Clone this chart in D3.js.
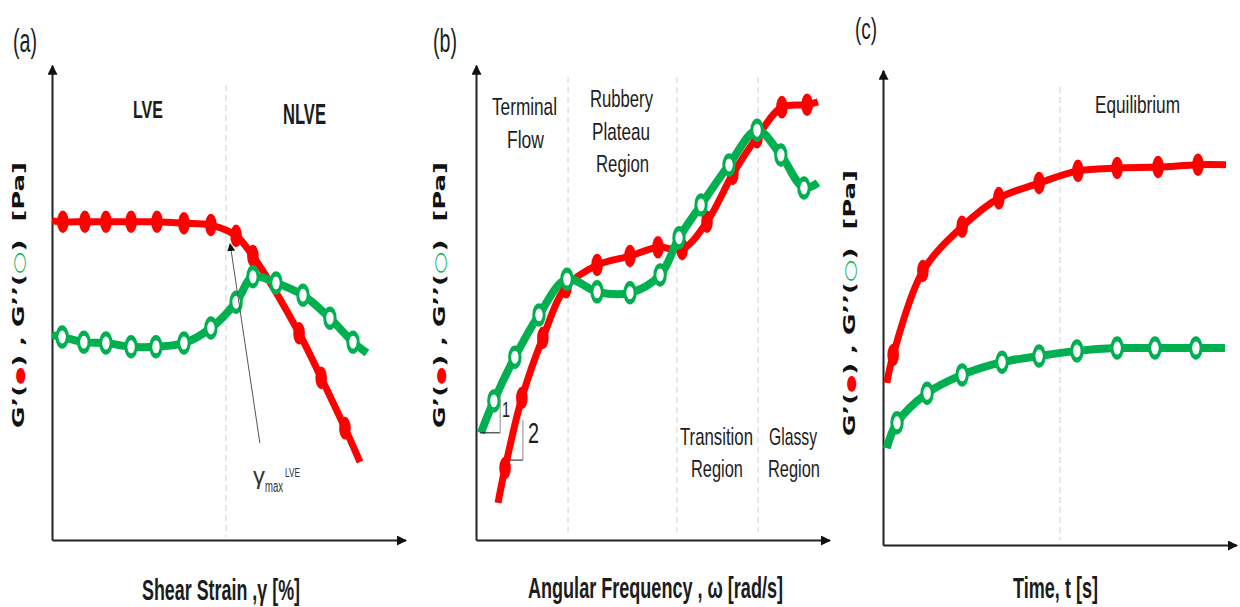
<!DOCTYPE html>
<html><head><meta charset="utf-8">
<script src="https://cdn.jsdelivr.net/npm/d3@7"></script>
<style>
html,body{margin:0;padding:0;background:#fff;}
svg{display:block;}
text{white-space:pre;}
</style></head>
<body>
<script>
// ---------------- DATA (arbitrary schematic units, 0..10) ----------------
// (a) amplitude sweep
const strainRedX   = [0, 0.31, 0.94, 1.54, 2.26, 3.0, 3.77, 4.54, 5.26, 5.74, 7.06, 7.69, 8.37, 8.8];
const strainGp     = [6.79, 6.77, 6.77, 6.77, 6.77, 6.77, 6.74, 6.70, 6.47, 6.04, 4.40, 3.45, 2.38, 1.66];
const strainGreenX = [0, 0.29, 0.91, 1.54, 2.26, 2.97, 3.77, 4.54, 5.26, 5.74, 6.4, 7.17, 7.94, 8.6, 9.0];
const strainGpp    = [4.36, 4.32, 4.21, 4.19, 4.11, 4.11, 4.19, 4.51, 5.06, 5.60, 5.47, 5.21, 4.72, 4.21, 3.98];
const strainRegions = [4.97];
const strainRegionLabels = ["LVE", "NLVE"];

// (b) frequency sweep
const freqRedX   = [0.63, 0.83, 1.31, 1.91, 2.57, 3.46, 4.4, 5.2, 5.89, 6.6, 7.34, 8.03, 8.74, 9.46, 9.77];
const freqGp     = [0.79, 1.53, 3.02, 4.30, 5.38, 5.85, 6.04, 6.23, 6.19, 6.77, 7.79, 8.57, 9.21, 9.26, 9.32];
const freqGreenX = [0.14, 0.51, 1.11, 1.8, 2.6, 3.46, 4.4, 5.26, 5.8, 6.43, 7.23, 8.03, 8.71, 9.37, 9.77];
const freqGpp    = [2.28, 2.96, 3.89, 4.79, 5.55, 5.28, 5.26, 5.64, 6.43, 7.13, 7.98, 8.72, 8.19, 7.49, 7.60];
const freqRegions = [2.63, 5.74, 8.06];
const freqRegionLabels = [["Terminal", "Flow"], ["Rubbery", "Plateau", "Region"], ["Transition", "Region"], ["Glassy", "Region"]];
const slopeGreen = [[0.11, 2.28], [0.69, 2.28], [0.69, 3.09]];
const slopeRed   = [[0.97, 1.70], [1.34, 1.70], [1.34, 2.55]];
const slopeLabels = ["1", "2"];

// (c) time sweep
const timeRedX   = [0.11, 0.29, 1.14, 2.26, 3.31, 4.46, 5.57, 6.69, 7.86, 9.0, 9.8];
const timeGp     = [3.45, 4.04, 5.83, 6.77, 7.38, 7.70, 7.96, 8.02, 8.04, 8.09, 8.09];
const timeGreenX = [0.11, 0.4, 1.26, 2.26, 3.4, 4.46, 5.54, 6.69, 7.77, 8.94, 9.77];
const timeGpp    = [2.06, 2.6, 3.23, 3.62, 3.89, 4.02, 4.13, 4.19, 4.19, 4.19, 4.19];
const timeRegions = [5.06];
const timeRegionLabels = ["Equilibrium"];

const xTitles = ["Shear Strain ,γ [%]", "Angular Frequency , ω [rad/s]", "Time, t [s]"];
const panelLetters = ["(a)", "(b)", "(c)"];
const yMaxArrow = [[5.94, 2.06], [5.09, 6.30]];

// ---------------- LAYOUT ----------------
const RED = "#ff0000", GREEN = "#00b050", INK = "#1c1c1c";
const NARROW = "'Liberation Sans Narrow','Liberation Sans',Arial,sans-serif";
const W = 1240, H = 607;

const svg = d3.select("body").append("svg").attr("width", W).attr("height", H);
const defs = svg.append("defs");
function arrowMarker(id, size, color) {
  defs.append("marker").attr("id", id).attr("viewBox", "0 0 10 10")
    .attr("refX", 9).attr("refY", 5).attr("markerUnits", "userSpaceOnUse")
    .attr("markerWidth", size).attr("markerHeight", size).attr("orient", "auto")
    .append("path").attr("d", "M0,0 L10,5 L0,10 z").attr("fill", color);
}
arrowMarker("axArrow", 10, "#111");
arrowMarker("smArrow", 8, "#111");

const panelDefs = [
  {xr: [52, 402],  yr: [540, 70], dash: [85, 537], letter: [13, 52, 26, 24], ylab: [24, 295],
   title: [142, 600, 158],
   redX: strainRedX, redY: strainGp, greenX: strainGreenX, greenY: strainGpp, regions: strainRegions},
  {xr: [476, 826], yr: [540, 70], dash: [77, 532], letter: [433, 52, 26, 24], ylab: [445, 295],
   title: [528, 598, 255],
   redX: freqRedX, redY: freqGp, greenX: freqGreenX, greenY: freqGpp, regions: freqRegions},
  {xr: [883, 1233], yr: [545, 75], dash: [87, 540], letter: [855, 39, 24, 22], ylab: [855, 303],
   title: [1013, 598, 85],
   redX: timeRedX, redY: timeGp, greenX: timeGreenX, greenY: timeGpp, regions: timeRegions}
];

// text helper: font sized for width, stretched vertically (condensed look)
function txt(g, s, x, y, o) {
  o = o || {};
  const t = g.append("text").attr("x", 0).attr("y", 0).text(s)
    .attr("transform", `translate(${x},${y}) scale(1,${o.sy || 1})`)
    .attr("font-family", o.family || NARROW).attr("font-size", o.size || 21)
    .attr("font-weight", o.weight || "normal").attr("fill", o.fill || INK);
  if (o.tl) t.attr("textLength", o.tl).attr("lengthAdjust", "spacingAndGlyphs");
  return t;
}

const scales = [];
panelDefs.forEach((p, i) => {
  const x = d3.scaleLinear().domain([0, 10]).range(p.xr);
  const y = d3.scaleLinear().domain([0, 10]).range(p.yr);
  scales.push({x, y});
  const g = svg.append("g");

  // dashed region boundaries
  p.regions.forEach(v => {
    g.append("line").attr("x1", x(v)).attr("x2", x(v)).attr("y1", p.dash[0]).attr("y2", p.dash[1])
      .attr("stroke", "#d9d9d9").attr("stroke-width", 1.2).attr("stroke-dasharray", "6,4");
  });

  // axes (no ticks) with arrow heads
  const xa = d3.scaleLinear().domain([0, 10.1]).range([x(0), x(10.1)]);
  const ya = d3.scaleLinear().domain([0, 10.1]).range([y(0), y(10.1)]);
  const gx = g.append("g").attr("transform", `translate(0,${y(0)})`)
    .call(d3.axisBottom(xa).tickValues([]).tickSizeOuter(0));
  const gy = g.append("g").attr("transform", `translate(${x(0)},0)`)
    .call(d3.axisLeft(ya).tickValues([]).tickSizeOuter(0));
  [gx, gy].forEach(a => a.select(".domain").attr("stroke", "#222").attr("stroke-width", 2)
    .attr("marker-end", "url(#axArrow)"));

  // curves
  const line = d3.line().x(d => x(d[0])).y(d => y(d[1])).curve(d3.curveCatmullRom.alpha(0.5));
  const red = p.redX.map((v, k) => [v, p.redY[k]]);
  const green = p.greenX.map((v, k) => [v, p.greenY[k]]);
  g.append("path").attr("d", line(red)).attr("fill", "none").attr("stroke", RED).attr("stroke-width", 7);
  g.selectAll(".rm").data(red.slice(1, -1)).enter().append("circle")
    .attr("r", 5.8).attr("fill", RED)
    .attr("transform", d => `translate(${x(d[0])},${y(d[1])}) scale(1,1.95)`);
  g.append("path").attr("d", line(green)).attr("fill", "none").attr("stroke", GREEN).attr("stroke-width", 8);
  g.selectAll(".gm").data(green.slice(1, -1)).enter().append("circle")
    .attr("r", 5.2).attr("fill", "#fff").attr("stroke", GREEN).attr("stroke-width", 3)
    .attr("transform", d => `translate(${x(d[0])},${y(d[1])}) scale(1,1.75)`);

  // panel letter
  txt(svg, panelLetters[i], p.letter[0], p.letter[1], {size: p.letter[2], sy: 1.25, tl: p.letter[3]});

  // y label
  const yl = svg.append("text").attr("transform", `translate(${p.ylab[0]},${p.ylab[1]}) rotate(-90)`)
    .attr("text-anchor", "middle").attr("font-family", "'DejaVu Sans',Verdana,sans-serif")
    .attr("font-weight", "bold").attr("font-size", 15).attr("fill", "#111")
    .attr("textLength", 266).attr("lengthAdjust", "spacingAndGlyphs");
  yl.append("tspan").text("G’(");
  yl.append("tspan").text("●").attr("fill", RED).attr("font-size", 12);
  yl.append("tspan").text(") , G’’(");
  yl.append("tspan").text("○").attr("fill", GREEN).attr("font-weight", "normal");
  yl.append("tspan").text(")  [Pa]");

  // x title
  txt(svg, xTitles[i], p.title[0], p.title[1], {size: 24, sy: 1.25, weight: "bold", tl: p.title[2]});
});

// ---------- annotations (a) ----------
{
  const {x, y} = scales[0];
  txt(svg, strainRegionLabels[0], 133, 118, {size: 20, sy: 1.18, weight: "bold", tl: 30});
  txt(svg, strainRegionLabels[1], 283, 124, {size: 23, sy: 1.3, weight: "bold", tl: 43});
  svg.append("line").attr("x1", x(yMaxArrow[0][0])).attr("y1", y(yMaxArrow[0][1]))
    .attr("x2", x(yMaxArrow[1][0])).attr("y2", y(yMaxArrow[1][1]))
    .attr("stroke", "#555").attr("stroke-width", 1).attr("marker-end", "url(#smArrow)");
  txt(svg, "γ", 253, 484, {size: 20, sy: 1.2, fill: "#333", tl: 12});
  txt(svg, "max", 265, 492, {size: 13, sy: 1.2, fill: "#333", tl: 18});
  txt(svg, "LVE", 285, 477, {size: 11, sy: 1.2, fill: "#333", tl: 15});
}
// ---------- annotations (b) ----------
{
  const {x, y} = scales[1];
  const lab = [
    [freqRegionLabels[0][0], 492, 115, 65], [freqRegionLabels[0][1], 507, 148, 37],
    [freqRegionLabels[1][0], 590, 107, 63], [freqRegionLabels[1][1], 592, 140, 58], [freqRegionLabels[1][2], 596, 172, 53],
    [freqRegionLabels[2][0], 680, 445, 73], [freqRegionLabels[2][1], 691, 477, 52],
    [freqRegionLabels[3][0], 769, 445, 48], [freqRegionLabels[3][1], 768, 477, 52]
  ];
  lab.forEach(l => txt(svg, l[0], l[1], l[2], {size: 20, sy: 1.22, tl: l[3]}));
  const pl = d3.line().x(d => x(d[0])).y(d => y(d[1]));
  [slopeGreen, slopeRed].forEach(s => {
    svg.append("path").attr("d", pl(s.slice(0, 2))).attr("fill", "none").attr("stroke", "#111").attr("stroke-width", 1);
    svg.append("path").attr("d", pl(s.slice(1))).attr("fill", "none").attr("stroke", "#888").attr("stroke-width", 1);
  });
  txt(svg, slopeLabels[0], 502, 417, {size: 18, sy: 1.2, tl: 8});
  txt(svg, slopeLabels[1], 528, 443, {size: 23, sy: 1.25, tl: 11});
}
// ---------- annotations (c) ----------
txt(svg, timeRegionLabels[0], 1095, 113, {size: 20, sy: 1.22, tl: 85});
</script>
</body></html>
